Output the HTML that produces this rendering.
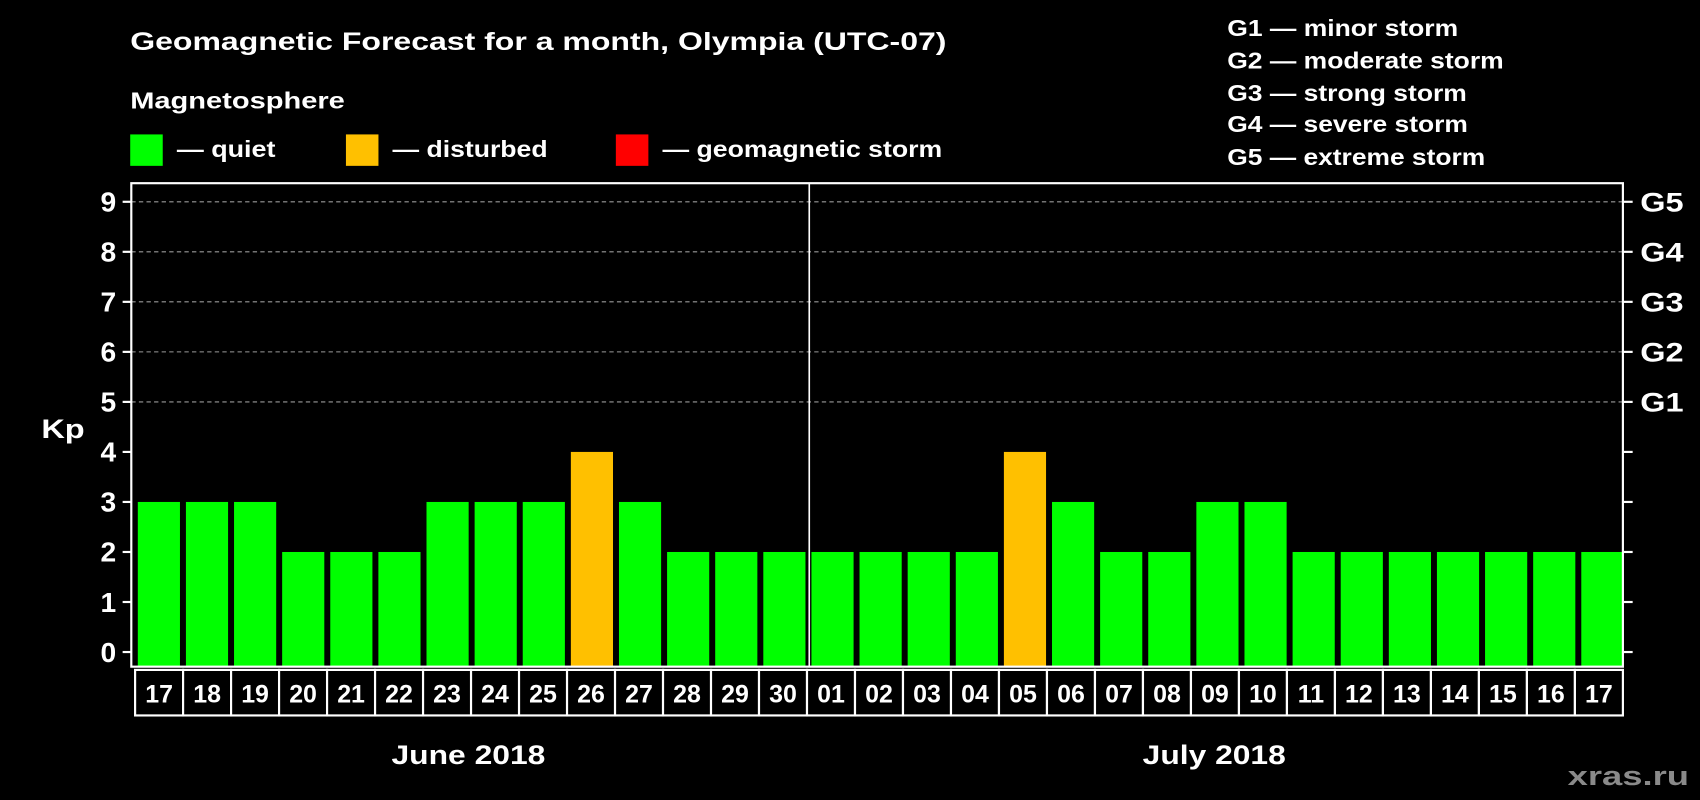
<!DOCTYPE html>
<html><head><meta charset="utf-8"><style>
html,body{margin:0;padding:0;background:#000;}
svg{display:block;font-family:"Liberation Sans",Arial,sans-serif;font-weight:bold;}
</style></head><body>
<svg id="chart" width="1700" height="800" viewBox="0 0 1568 738" xmlns="http://www.w3.org/2000/svg">
<rect x="0" y="0" width="1568" height="738" fill="#000"/>
<text x="120" y="46" fill="#fff" font-size="23" textLength="753" lengthAdjust="spacingAndGlyphs">Geomagnetic Forecast for a month, Olympia (UTC-07)</text>
<text x="120" y="100" fill="#fff" font-size="21" textLength="198" lengthAdjust="spacingAndGlyphs">Magnetosphere</text>
<rect x="120" y="124" width="30" height="29" fill="#00ff00"/>
<text x="163" y="145" fill="#fff" font-size="21" textLength="91" lengthAdjust="spacingAndGlyphs">— quiet</text>
<rect x="319" y="124" width="30" height="29" fill="#ffc000"/>
<text x="362" y="145" fill="#fff" font-size="21" textLength="143" lengthAdjust="spacingAndGlyphs">— disturbed</text>
<rect x="568" y="124" width="30" height="29" fill="#ff0000"/>
<text x="611" y="145" fill="#fff" font-size="21" textLength="258" lengthAdjust="spacingAndGlyphs">— geomagnetic storm</text>
<g fill="#fff" font-size="21">
<text x="1132" y="33" textLength="213" lengthAdjust="spacingAndGlyphs">G1 — minor storm</text>
<text x="1132" y="63" textLength="255" lengthAdjust="spacingAndGlyphs">G2 — moderate storm</text>
<text x="1132" y="93" textLength="221" lengthAdjust="spacingAndGlyphs">G3 — strong storm</text>
<text x="1132" y="122" textLength="222" lengthAdjust="spacingAndGlyphs">G4 — severe storm</text>
<text x="1132" y="152" textLength="238" lengthAdjust="spacingAndGlyphs">G5 — extreme storm</text>
</g>
<text x="38" y="404" fill="#fff" font-size="25" textLength="40" lengthAdjust="spacingAndGlyphs">Kp</text>
<g id="grid"></g>
<g id="bars"></g>
<g id="axes"></g>
<text x="361" y="705" fill="#fff" font-size="25" textLength="142" lengthAdjust="spacingAndGlyphs">June 2018</text>
<text x="1054" y="705" fill="#fff" font-size="25" textLength="132" lengthAdjust="spacingAndGlyphs">July 2018</text>
<text x="1446" y="724" fill="#8a8a8a" font-size="25" textLength="112" lengthAdjust="spacingAndGlyphs">xras.ru</text>
</svg>
<script>
const days = ["17","18","19","20","21","22","23","24","25","26","27","28","29","30","01","02","03","04","05","06","07","08","09","10","11","12","13","14","15","16","17"];
const kpValues = [3,3,3,2,2,2,3,3,3,4,3,2,2,2,2,2,2,2,4,3,2,2,3,3,2,2,2,2,2,2,2];
const yTicks = [0,1,2,3,4,5,6,7,8,9];
const gLabels = ["G1","G2","G3","G4","G5"];
const gLevels = [5,6,7,8,9];
const monthBreakIndex = 14;

const NS = "http://www.w3.org/2000/svg";
const L = 121, R = 1497, T = 169, B = 615;
const y0 = 601.5, unit = 46.15;
const step = (R - L) / days.length;
function yScale(v){ return y0 - v * unit; }
function xScale(i){ return L + 4 + i * step; }
function mk(tag, attrs, parent){
  const e = document.createElementNS(NS, tag);
  for (const k in attrs) e.setAttribute(k, attrs[k]);
  parent.appendChild(e);
  return e;
}
const grid = document.getElementById('grid');
const bars = document.getElementById('bars');
const axes = document.getElementById('axes');

gLevels.forEach((lv, i) => {
  const ln = mk('line', {x1:L, x2:R, y1:yScale(lv), y2:yScale(lv), stroke:'#999', 'stroke-width':1, 'stroke-dasharray':'4,3'}, grid);
  
  
  const t = mk('text', {x:1513, y:yScale(lv)+9, fill:'#fff', 'font-size':25, textLength:40, lengthAdjust:'spacingAndGlyphs'}, axes);
  t.textContent = gLabels[i];
  
  
});

kpValues.forEach((v, i) => {
  const color = v >= 5 ? '#ff0000' : (v >= 4 ? '#ffc000' : '#00ff00');
  const r = mk('rect', {x:xScale(i)+2, y:yScale(v), width:step-5.5, height:B - yScale(v), fill:color}, bars);
  
  
});

const frame = mk('rect', {x:L, y:T, width:R-L, height:B-T, fill:'none', stroke:'#fff', 'stroke-width':2}, axes);


const sep = mk('line', {x1:xScale(monthBreakIndex), x2:xScale(monthBreakIndex), y1:T, y2:B, stroke:'#fff', 'stroke-width':1.5}, axes);



yTicks.forEach(v => {
  const y = yScale(v);
  const tl = mk('line', {x1:L-8, x2:L, y1:y, y2:y, stroke:'#fff', 'stroke-width':2}, axes);
  
  
  const tr = mk('line', {x1:R, x2:R+9, y1:y, y2:y, stroke:'#fff', 'stroke-width':2}, axes);
  
  
  const t = mk('text', {x:107, y:y+9, fill:'#fff', 'font-size':26, 'text-anchor':'end'}, axes);
  t.textContent = String(v);
  
  
});

const bx0 = 124.5, bw = (R - bx0) / days.length;
days.forEach((d, i) => {
  const bx = bx0 + i * bw;
  const box = mk('rect', {x:bx, y:618, width:bw, height:42, fill:'#000', stroke:'#fff', 'stroke-width':2}, axes);
  
  
  const t = mk('text', {x:bx + bw/2, y:648, fill:'#fff', 'font-size':23, 'text-anchor':'middle'}, axes);
  t.textContent = d;
  
  
});
</script>
</body></html>
